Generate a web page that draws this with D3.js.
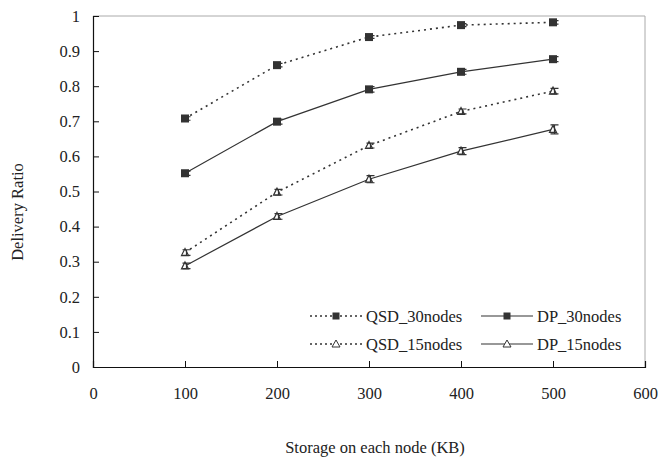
<!DOCTYPE html>
<html><head><meta charset="utf-8">
<script src="https://cdn.jsdelivr.net/npm/d3@7"></script>
<style>body{margin:0;background:#fff}svg{display:block}text{font-family:"Liberation Serif","Times New Roman",serif;fill:#222}</style>
</head><body>
<svg id="c" width="659" height="458"></svg>
<script>
const storage = [100, 200, 300, 400, 500];
const qsd30 = [0.708, 0.860, 0.940, 0.974, 0.982];
const dp30 = [0.552, 0.699, 0.791, 0.841, 0.877];
const qsd15 = [0.326, 0.498, 0.631, 0.728, 0.786];
const dp15 = [0.288, 0.429, 0.535, 0.615, 0.677];
const errQsd30 = [0.005, 0.005, 0.004, 0.004, 0.005];
const errDp30 = [0.006, 0.007, 0.008, 0.007, 0.007];
const errQsd15 = [0.008, 0.008, 0.007, 0.007, 0.008];
const errDp15 = [0.008, 0.008, 0.010, 0.010, 0.013];
const xTicks = [0, 100, 200, 300, 400, 500, 600];
const yTicks = [0, 0.1, 0.2, 0.3, 0.4, 0.5, 0.6, 0.7, 0.8, 0.9, 1];
const seriesNames = ["QSD_30nodes", "DP_30nodes", "QSD_15nodes", "DP_15nodes"];

const series = [
  {name: seriesNames[0], vals: qsd30, err: errQsd30, dotted: true, shape: "square"},
  {name: seriesNames[1], vals: dp30, err: errDp30, dotted: false, shape: "square"},
  {name: seriesNames[2], vals: qsd15, err: errQsd15, dotted: true, shape: "tri"},
  {name: seriesNames[3], vals: dp15, err: errDp15, dotted: false, shape: "tri"}
];

const L = 93, R = 645, T = 16, B = 367;
const FS = 16.5;
const svg = d3.select("#c");
const x = d3.scaleLinear().domain([0, 600]).range([L, R]);
const y = d3.scaleLinear().domain([0, 1]).range([B, T]);
const col = "#333";

// frame (top/right light)
svg.append("path").attr("d", `M${L},${T}H${R}V${B}`).attr("fill","none").attr("stroke","#aaa").attr("stroke-width",1);

const xa = svg.append("g").attr("transform", `translate(0,${B})`)
  .call(d3.axisBottom(x).tickValues(xTicks).tickSize(-6).tickPadding(20).tickFormat(d3.format("d")));
const ya = svg.append("g").attr("transform", `translate(${L},0)`)
  .call(d3.axisLeft(y).tickValues(yTicks).tickSize(-6).tickPadding(13).tickFormat(d => d === 0 ? "0" : d === 1 ? "1" : d3.format(".1f")(d)));
[xa, ya].forEach(g => {
  g.select(".domain").attr("stroke", "#111").attr("stroke-width", 1.2);
  g.selectAll(".tick line").attr("stroke", "#111");
  g.selectAll("text").attr("font-size", FS).attr("font-family", "Liberation Serif").attr("fill", "#222");
});
xa.selectAll(".tick").filter(d => d === 0 || d === 600).select("line").remove();
ya.selectAll(".tick").filter(d => d === 0 || d === 1).select("line").remove();

const line = d3.line().x(d => x(d[0])).y(d => y(d[1]));

function marker(g, shape, cx, cy) {
  if (shape === "square") {
    g.append("rect").attr("x", cx - 4).attr("y", cy - 4).attr("width", 8).attr("height", 8).attr("fill", col);
  } else {
    const h = 7;
    g.append("path").attr("d", `M${cx},${cy - h/2 - 0.5}L${cx + h/2},${cy + h/2 - 0.5}L${cx - h/2},${cy + h/2 - 0.5}Z`)
      .attr("fill", "#fff").attr("stroke", col).attr("stroke-width", 1.2);
  }
}

series.forEach(s => {
  const pts = storage.map((v, i) => [v, s.vals[i]]);
  svg.append("path").datum(pts).attr("d", line).attr("fill", "none").attr("stroke", col)
    .attr("stroke-width", s.dotted ? 1.6 : 1.2).attr("stroke-dasharray", s.dotted ? "2,4" : null);
  const g = svg.append("g");
  pts.forEach((p, i) => {
    const cx = x(p[0]), cy = y(p[1]);
    marker(g, s.shape, cx, cy);
    const ex = cx + 1.5, e = s.err[i];
    g.append("path").attr("d", `M${ex},${y(p[1] + e)}V${y(p[1] - e)}M${ex - 4},${y(p[1] + e)}H${ex + 4}M${ex - 4},${y(p[1] - e)}H${ex + 4}`)
      .attr("stroke", col).attr("stroke-width", 1.2).attr("fill", "none");
  });
});

// legend
const legPos = [[310, 316], [481, 316], [310, 344], [481, 344]];
series.forEach((s, i) => {
  const [lx, ly] = legPos[i];
  const g = svg.append("g");
  g.append("line").attr("x1", lx).attr("x2", lx + 52).attr("y1", ly).attr("y2", ly)
    .attr("stroke", col).attr("stroke-width", s.dotted ? 1.6 : 1.2).attr("stroke-dasharray", s.dotted ? "2,3" : null);
  if (s.shape === "square") {
    g.append("rect").attr("x", lx + 26 - 3.5).attr("y", ly - 3.5).attr("width", 7).attr("height", 7).attr("fill", col);
  } else {
    g.append("path").attr("d", `M${lx + 26},${ly - 4}L${lx + 30},${ly + 3}L${lx + 22},${ly + 3}Z`)
      .attr("fill", "#fff").attr("stroke", col).attr("stroke-width", 1);
  }
  g.append("text").attr("x", lx + 56).attr("y", ly + 5.5).attr("font-size", FS).text(s.name);
});

svg.append("text").attr("x", 375).attr("y", 453).attr("text-anchor", "middle").attr("font-size", FS)
  .text("Storage on each node (KB)");
svg.append("text").attr("transform", "translate(23,212) rotate(-90)").attr("text-anchor", "middle").attr("font-size", FS)
  .text("Delivery Ratio");
</script>
</body></html>
